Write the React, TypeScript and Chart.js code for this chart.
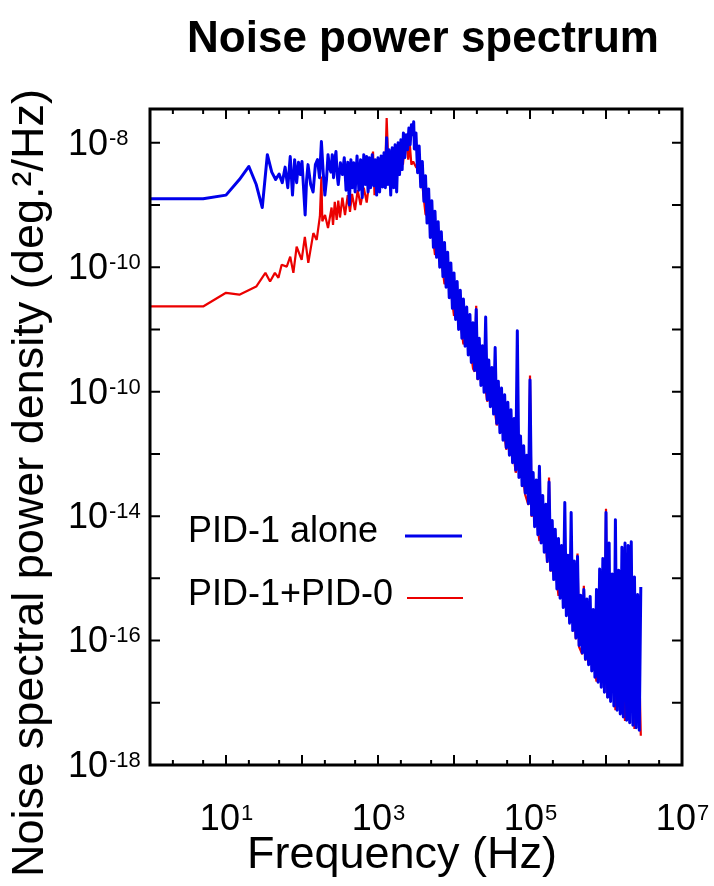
import React, { useEffect, useRef } from "react";
import { Chart, registerables } from "chart.js";

Chart.register(...registerables);

const FONT = "'Liberation Sans', Arial, Helvetica, sans-serif";
const BLUE = "rgb(0,0,235)";
const RED = "rgb(235,0,0)";

const titleText = "Noise power spectrum";
const xAxisTitle = "Frequency (Hz)";
const yAxisTitle = "Noise spectral power density (deg.\u00B2/Hz)";
const seriesLabels = ["PID-1 alone", "PID-1+PID-0"];

// tick labels as printed in the figure
const xTickValues = [1e1, 1e3, 1e5, 1e7];
const xTickExps = ["1", "3", "5", "7"];
const yTickValues = [1e-8, 1e-10, 1e-12, 1e-14, 1e-16, 1e-18];
const yTickExps = ["-8", "-10", "-10", "-14", "-16", "-18"];

// ---- PID-1 alone (blue): frequency (Hz) and log10 of PSD (deg^2/Hz)
const blueLowFreq = [1, 5, 10, 15, 20, 25, 30, 35, 40, 45, 50, 55, 60, 65, 70, 75, 80, 85, 90, 95,
  100, 110, 115, 120, 130, 140, 150, 160, 170, 180, 190, 200, 210, 220, 230, 240, 250, 260, 270, 280,
  290, 300, 320, 340, 360, 380, 400, 420, 440, 460, 480, 500, 530, 560, 590, 620, 650, 680, 710, 740,
  770, 800, 840, 880, 920, 960, 1000, 1050, 1100, 1150, 1200, 1250, 1300, 1350, 1400, 1470, 1540, 1610,
  1680, 1760, 1840, 1920, 2000, 2080, 2160, 2250, 2350, 2450, 2550, 2650, 2750, 2850, 2950];
const blueLowLogPsd = [-8.90, -8.90, -8.84, -8.59, -8.38, -8.67, -9.04, -8.19, -8.47, -8.59, -8.50, -8.64,
  -8.39, -8.72, -8.22, -8.84, -8.27, -8.64, -8.31, -8.51, -8.30, -9.16, -8.59, -8.35, -8.67, -8.79, -8.35,
  -8.27, -8.56, -7.98, -8.47, -8.84, -8.59, -8.19, -8.40, -8.47, -8.19, -8.56, -8.27, -8.14, -8.51, -8.67,
  -8.32, -8.51, -8.24, -8.76, -8.31, -9.00, -8.27, -8.72, -8.32, -8.79, -8.21, -8.76, -8.27, -8.88, -8.19,
  -8.67, -8.22, -8.79, -8.24, -8.72, -8.19, -8.69, -8.27, -8.84, -8.24, -8.79, -8.21, -8.71, -8.16, -8.72,
  -7.92, -8.67, -8.11, -8.84, -8.08, -8.72, -8.03, -8.79, -8.00, -8.51, -7.95, -8.43, -7.84, -8.24, -7.87,
  -8.11, -7.76, -8.03, -7.71, -7.87, -7.66];
const blueBandFreq = [
  3.01e3, 3.16e3, 3.32e3, 3.48e3, 3.65e3, 3.83e3, 4.02e3, 4.22e3, 4.42e3, 4.64e3, 4.87e3, 5.11e3, 5.36e3,
  5.62e3, 5.90e3, 6.19e3, 6.49e3, 6.81e3, 7.15e3, 7.50e3, 7.87e3, 8.25e3, 8.66e3, 9.09e3, 9.53e3,
  1.00e4, 1.05e4, 1.10e4, 1.15e4, 1.21e4, 1.27e4, 1.33e4, 1.40e4, 1.47e4, 1.54e4, 1.62e4, 1.69e4, 1.78e4,
  1.87e4, 1.96e4, 2.05e4, 2.15e4, 2.26e4, 2.37e4, 2.49e4, 2.61e4, 2.74e4, 2.87e4, 3.01e4, 3.16e4, 3.32e4,
  3.48e4, 3.65e4, 3.83e4, 4.02e4, 4.22e4, 4.42e4, 4.64e4, 4.87e4, 5.11e4, 5.36e4, 5.62e4, 5.90e4, 6.19e4,
  6.49e4, 6.81e4, 7.15e4, 7.50e4, 7.87e4, 8.25e4, 8.66e4, 9.09e4, 9.53e4,
  1.00e5, 1.05e5, 1.10e5, 1.15e5, 1.21e5, 1.27e5, 1.33e5, 1.40e5, 1.47e5, 1.54e5, 1.62e5, 1.69e5, 1.78e5,
  1.87e5, 1.96e5, 2.05e5, 2.15e5, 2.26e5, 2.37e5, 2.49e5, 2.61e5, 2.74e5, 2.87e5, 3.01e5, 3.16e5, 3.32e5,
  3.48e5, 3.65e5, 3.83e5, 4.02e5, 4.22e5, 4.42e5, 4.64e5, 4.87e5, 5.11e5, 5.36e5, 5.62e5, 5.90e5, 6.19e5,
  6.49e5, 6.81e5, 7.15e5, 7.50e5, 7.87e5, 8.25e5, 8.66e5, 9.09e5, 9.53e5,
  1.00e6, 1.05e6, 1.10e6, 1.15e6, 1.21e6, 1.27e6, 1.33e6, 1.40e6, 1.47e6, 1.54e6, 1.62e6, 1.69e6, 1.78e6,
  1.87e6, 1.96e6, 2.05e6, 2.15e6, 2.26e6, 2.37e6, 2.49e6, 2.61e6, 2.74e6, 2.87e6];
const blueBandLogPsd = [
  -8.10, -7.84, -8.48, -8.05, -8.71, -8.30, -8.94, -8.53, -9.29, -8.74, -9.52, -8.93, -9.68,
  -9.10, -9.84, -9.27, -10.00, -9.43, -10.15, -9.60, -10.32, -9.76, -10.49, -9.93, -10.66,
  -10.09, -10.84, -10.23, -11.00, -10.37, -11.14, -10.51, -11.27, -10.64, -11.41, -10.76, -11.53, -10.89,
  -11.66, -10.68, -11.79, -11.14, -11.90, -11.26, -12.01, -10.80, -12.13, -11.49, -12.24, -11.61, -12.36,
  -11.29, -12.51, -11.83, -12.66, -11.94, -12.78, -12.05, -12.90, -12.17, -13.02, -12.29, -13.14, -12.43,
  -13.26, -11.02, -13.38, -12.71, -13.51, -12.87, -13.63, -13.02, -13.80,
  -11.81, -13.98, -13.30, -14.17, -13.42, -14.30, -13.20, -14.43, -13.67, -14.58, -13.81, -14.73, -13.45,
  -14.87, -14.07, -15.02, -14.21, -15.17, -14.36, -15.32, -14.47, -15.47, -13.78, -15.60, -14.63, -15.72,
  -13.94, -15.84, -14.72, -15.96, -14.65, -16.08, -15.27, -16.20, -15.18, -16.30, -15.33, -16.39, -15.29,
  -16.49, -15.50, -16.59, -15.18, -16.67, -14.85, -16.75, -14.68, -16.83,
  -13.94, -16.91, -14.43, -16.98, -14.93, -17.05, -14.06, -17.12, -14.87, -17.18, -14.50, -17.23, -14.43,
  -17.28, -14.47, -17.32, -14.41, -17.36, -14.98, -17.40, -15.26, -17.44, -15.14];

// ---- PID-1+PID-0 (red): frequency (Hz) and log10 of PSD (deg^2/Hz)
const redLowFreq = [1, 5, 10, 15, 25, 33, 38, 44, 49, 54, 63, 70, 77, 85, 99, 109, 121, 141, 156, 172,
  180, 185, 201, 220, 245, 256, 270, 286, 300, 316, 340, 368, 400, 428, 455, 498, 540, 590, 650, 710,
  760, 860, 900, 940, 1000, 1060, 1120, 1160, 1230, 1300, 1390, 1470, 1570, 1650, 1730, 1850, 1950, 2050,
  2130, 2250, 2360, 2500, 2630, 2750, 2900];
const redLowLogPsd = [-10.63, -10.63, -10.41, -10.44, -10.31, -10.09, -10.23, -10.09, -10.17, -9.96,
  -9.99, -9.83, -10.09, -9.67, -9.88, -9.51, -9.93, -9.45, -9.56, -9.18, -8.54, -9.26, -9.16, -9.37, -9.04,
  -9.32, -8.95, -9.24, -8.93, -9.20, -8.88, -9.16, -8.84, -9.11, -8.82, -9.08, -8.76, -9.00, -8.72, -8.96,
  -8.67, -8.14, -8.84, -8.51, -8.79, -8.31, -8.72, -8.43, -8.67, -7.60, -8.59, -8.22, -8.56, -8.14, -8.51,
  -8.19, -8.43, -8.11, -8.35, -8.05, -7.98, -8.27, -8.05, -8.35, -8.30];
const redBandFreq = [3.16e3, 3.65e3, 4.22e3, 4.87e3, 5.62e3, 6.49e3, 7.50e3, 8.66e3,
  1.00e4, 1.15e4, 1.33e4, 1.54e4, 1.78e4, 1.87e4, 1.96e4, 2.05e4, 2.37e4, 2.74e4, 3.16e4, 3.65e4, 4.22e4,
  4.87e4, 5.62e4, 6.49e4, 7.50e4, 8.66e4, 9.53e4,
  1.00e5, 1.05e5, 1.15e5, 1.33e5, 1.54e5, 1.69e5, 1.78e5, 1.87e5, 2.05e5, 2.37e5, 2.74e5, 3.16e5, 3.65e5,
  4.02e5, 4.22e5, 4.42e5, 4.87e5, 5.11e5, 5.36e5, 6.19e5, 7.50e5, 8.66e5, 9.53e5,
  1.00e6, 1.05e6, 1.15e6, 1.33e6, 1.54e6, 1.78e6, 2.05e6, 2.37e6, 2.74e6, 2.87e6];
const redBandLogPsd = [-8.39, -8.44, -9.15, -9.18, -9.80, -9.67, -10.27, -10.17,
  -10.78, -10.65, -11.24, -11.05, -11.63, -11.68, -10.62, -11.81, -11.61, -12.16, -11.95, -12.54, -12.33,
  -12.93, -12.68, -13.30, -13.08, -13.66, -13.82,
  -11.74, -14.01, -13.77, -14.40, -14.16, -14.75, -13.38, -14.89, -14.58, -15.28, -14.99, -15.41, -15.27,
  -15.98, -14.60, -16.10, -16.22, -15.12, -16.32, -15.94, -16.66, -15.75, -16.84,
  -13.88, -16.92, -15.91, -17.12, -15.86, -17.29, -15.90, -17.42, -16.45, -17.53];

function toPoints(freq: number[], logPsd: number[]) {
  return freq.map((f, i) => ({ x: f, y: Math.pow(10, logPsd[i]) }));
}

const blueData = [...toPoints(blueLowFreq, blueLowLogPsd), ...toPoints(blueBandFreq, blueBandLogPsd)];
const redData = [...toPoints(redLowFreq, redLowLogPsd), ...toPoints(redBandFreq, redBandLogPsd)];

function drawPower(ctx: CanvasRenderingContext2D, exp: string, x: number, capMid: number, align: "left" | "center") {
  const big = 36;
  const sup = 22;
  ctx.font = `${big}px ${FONT}`;
  const wb = ctx.measureText("10").width;
  ctx.font = `${sup}px ${FONT}`;
  const we = ctx.measureText(exp).width;
  const x0 = align === "left" ? x : x - (wb + we) / 2;
  const baseline = capMid + 0.358 * big;
  const capTop = baseline - 0.716 * big;
  ctx.textAlign = "left";
  ctx.textBaseline = "alphabetic";
  ctx.font = `${big}px ${FONT}`;
  ctx.fillText("10", x0, baseline);
  ctx.font = `${sup}px ${FONT}`;
  ctx.fillText(exp, x0 + wb + 1, capTop + 0.716 * sup);
}

const decorPlugin = {
  id: "decor",
  afterDraw(chart: any) {
    const { ctx, chartArea: a, scales } = chart;
    const xs = scales.x;
    const ys = scales.y;
    ctx.save();
    ctx.strokeStyle = "#000";
    ctx.fillStyle = "#000";
    // inward ticks
    ctx.lineWidth = 2;
    ctx.beginPath();
    for (let e = -17; e <= -8; e++) {
      const y = ys.getPixelForValue(Math.pow(10, e));
      ctx.moveTo(a.left, y);
      ctx.lineTo(a.left + 10, y);
      ctx.moveTo(a.right, y);
      ctx.lineTo(a.right - 10, y);
    }
    for (let d = 0; d < 7; d++) {
      for (const m of [1, 2, 5]) {
        const v = m * Math.pow(10, d);
        if (v <= 1) continue;
        const x = xs.getPixelForValue(v);
        const len = m === 1 ? 10 : 5;
        ctx.moveTo(x, a.bottom);
        ctx.lineTo(x, a.bottom - len);
        ctx.moveTo(x, a.top);
        ctx.lineTo(x, a.top + len);
      }
    }
    ctx.stroke();
    // frame
    ctx.lineWidth = 3;
    ctx.strokeRect(a.left, a.top, a.right - a.left, a.bottom - a.top);

    // y tick labels
    yTickValues.forEach((v, i) => {
      const y = ys.getPixelForValue(v);
      drawPower(ctx, yTickExps[i], 68, y - 1, "left");
    });
    // x tick labels
    xTickValues.forEach((v, i) => {
      const x = xs.getPixelForValue(v);
      drawPower(ctx, xTickExps[i], x, 817, "center");
    });

    // title
    ctx.textAlign = "center";
    ctx.textBaseline = "alphabetic";
    ctx.font = `bold 44px ${FONT}`;
    ctx.fillText(titleText, 423, 52);
    // x axis title
    ctx.font = `45px ${FONT}`;
    ctx.fillText(xAxisTitle, 402, 868);
    // y axis title
    ctx.save();
    ctx.translate(43, 483);
    ctx.rotate(-Math.PI / 2);
    ctx.font = `45px ${FONT}`;
    ctx.fillText(yAxisTitle, 0, 0);
    ctx.restore();

    // legend
    const ds = chart.data.datasets;
    const rows = [
      { baseline: 542, lineY: 536, x1: 405, x2: 462 },
      { baseline: 605, lineY: 598, x1: 407, x2: 463 },
    ];
    ds.forEach((d: any, i: number) => {
      const r = rows[i];
      ctx.font = `36px ${FONT}`;
      ctx.textAlign = "left";
      ctx.fillStyle = "#000";
      ctx.fillText(d.label, 188, r.baseline);
      ctx.strokeStyle = d.borderColor;
      ctx.lineWidth = d.borderWidth;
      ctx.beginPath();
      ctx.moveTo(r.x1, r.lineY);
      ctx.lineTo(r.x2, r.lineY);
      ctx.stroke();
    });
    ctx.restore();
  },
};

export default function App() {
  const ref = useRef<HTMLCanvasElement>(null);
  useEffect(() => {
    const canvas = ref.current;
    if (!canvas) return;
    const chart = new Chart(canvas, {
      type: "line",
      data: {
        datasets: [
          {
            label: seriesLabels[0],
            data: blueData,
            borderColor: BLUE,
            borderWidth: 3,
            pointRadius: 0,
            tension: 0,
            fill: false,
            borderJoinStyle: "round",
          },
          {
            label: seriesLabels[1],
            data: redData,
            borderColor: RED,
            borderWidth: 2.2,
            pointRadius: 0,
            tension: 0,
            fill: false,
            borderJoinStyle: "bevel",
          },
        ],
      },
      options: {
        responsive: false,
        animation: false,
        devicePixelRatio: 1,
        events: [],
        layout: { padding: { left: 150, top: 109, right: 32, bottom: 121 } },
        scales: {
          x: { type: "logarithmic", min: 1, max: 1e7, display: false },
          y: { type: "logarithmic", min: 1e-18, max: 3.5e-8, display: false },
        },
        plugins: {
          legend: { display: false },
          tooltip: { enabled: false },
          title: { display: false },
        },
      },
      plugins: [decorPlugin],
    } as any);
    return () => chart.destroy();
  }, []);
  return (
    <div style={{ position: "absolute", left: 0, top: 0, width: 714, height: 886, background: "#fff" }}>
      <canvas ref={ref} width={714} height={886} style={{ display: "block" }} />
    </div>
  );
}
